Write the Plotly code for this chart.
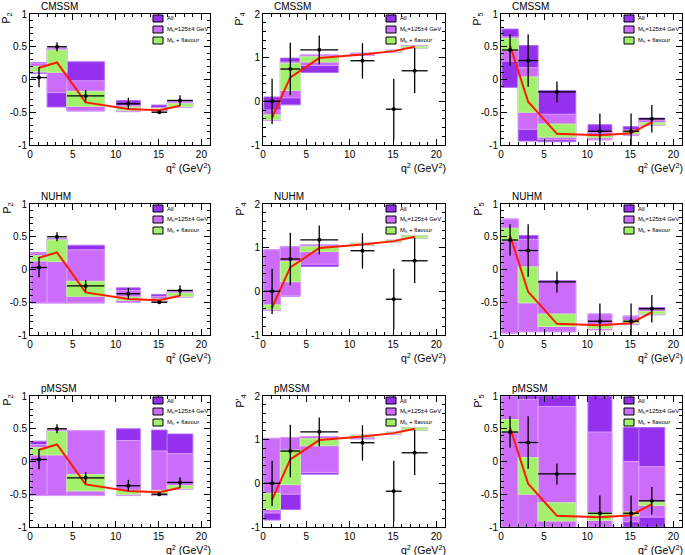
import plotly.graph_objects as go

# ---------------- data ----------------
bin_lo = [0.1, 2.0, 4.3, 10.09, 14.18, 16.0]
bin_hi = [2.0, 4.3, 8.68, 12.86, 16.0, 19.0]

models = ["CMSSM", "NUHM", "pMSSM"]
observables = ["P2", "P4", "P5"]
ytitles = ["P<sub>2</sub>", "P'<sub>4</sub>", "P'<sub>5</sub>"]
yranges = {"P2": [-1, 1], "P4": [-1, 2], "P5": [-1, 1]}
ytickvals = {"P2": [-1, -0.5, 0, 0.5, 1], "P4": [-1, 0, 1, 2], "P5": [-1, -0.5, 0, 0.5, 1]}
yticktext = {"P2": ["-1", "-0.5", "0", "0.5", "1"], "P4": ["-1", "0", "1", "2"],
             "P5": ["-1", "-0.5", "0", "0.5", "1"]}
xtickvals = [0, 5, 10, 15, 20]
xticktext = ["0", "5", "10", "15", "20"]

legend_labels = ["All", "M<sub>h</sub>=125±4 GeV", "M<sub>h</sub> + flavour"]

# LHCb measurements
p2_data = [0.03, 0.50, -0.25, -0.37, -0.50, -0.32]
p2_err_up = [0.16, 0.07, 0.09, 0.09, 0.02, 0.08]
p2_err_dn = [0.15, 0.07, 0.09, 0.08, 0.02, 0.08]
p4_data = [0.00, 0.74, 1.18, 0.93, -0.18, 0.70]
p4_err_up = [0.52, 0.60, 0.33, 0.40, 0.70, 0.52]
p4_err_dn = [0.52, 0.60, 0.33, 0.41, 0.70, 0.51]
p5_data = [0.45, 0.29, -0.19, -0.79, -0.79, -0.60]
p5_err_up = [0.24, 0.40, 0.16, 0.27, 0.27, 0.21]
p5_err_dn = [0.24, 0.40, 0.16, 0.25, 0.25, 0.21]

# SM prediction (red line)
p2_sm = [0.18, 0.26, -0.35, -0.45, -0.47, -0.40]
p4_sm = [-0.37, 0.55, 0.99, 1.07, 1.15, 1.25]
p5_sm = [0.52, -0.34, -0.83, -0.85, -0.82, -0.65]

# Bands per bin: (low, high) for All / M_h / M_h + flavour
cmssm_p2_all = [(0.09, 0.26), (-0.42, 0.48), (-0.48, 0.27), (-0.49, -0.32), (-0.48, -0.39), (-0.42, -0.34)]
cmssm_p2_mh = [(0.10, 0.25), (-0.20, 0.48), (-0.48, -0.02), (-0.49, -0.40), (-0.48, -0.43), (-0.42, -0.35)]
cmssm_p2_fl = [(0.12, 0.20), (0.11, 0.45), (-0.41, -0.18), (-0.47, -0.42), (-0.46, -0.44), (-0.41, -0.37)]
cmssm_p4_all = [(-0.44, 0.10), (-0.08, 0.99), (0.66, 1.06), (1.05, 1.10), (1.13, 1.17), (1.21, 1.27)]
cmssm_p4_mh = [(-0.44, -0.20), (0.08, 0.90), (0.82, 1.06), (1.05, 1.10), (1.13, 1.17), (1.21, 1.27)]
cmssm_p4_fl = [(-0.42, -0.31), (0.25, 0.87), (0.90, 1.02), None, (1.14, 1.16), (1.22, 1.26)]
cmssm_p5_all = [(-0.12, 0.77), (-0.94, 0.52), (-0.95, -0.17), (-0.92, -0.69), (-0.85, -0.72), (-0.70, -0.59)]
cmssm_p5_mh = [(0.28, 0.65), (-0.76, 0.18), (-0.92, -0.53), (-0.92, -0.80), (-0.85, -0.77), (-0.70, -0.62)]
cmssm_p5_fl = [(0.44, 0.63), (-0.50, 0.04), (-0.88, -0.68), (-0.89, -0.85), (-0.83, -0.79), (-0.69, -0.66)]

nuhm_p2_all = [(-0.51, 0.26), (-0.51, 0.47), (-0.51, 0.37), (-0.50, -0.28), (-0.50, -0.38), (-0.42, -0.33)]
nuhm_p2_mh = [(-0.51, 0.25), (-0.51, 0.46), (-0.51, 0.30), (-0.50, -0.32), (-0.50, -0.41), (-0.42, -0.34)]
nuhm_p2_fl = [(0.13, 0.21), (0.12, 0.45), (-0.41, -0.18), (-0.47, -0.42), (-0.48, -0.45), (-0.41, -0.36)]
nuhm_p4_all = [(-0.44, 0.95), (-0.11, 1.02), (0.57, 1.06), (1.05, 1.10), (1.13, 1.17), (1.21, 1.27)]
nuhm_p4_mh = [(-0.44, 0.95), (-0.10, 1.02), (0.62, 1.06), (1.05, 1.10), (1.13, 1.17), (1.21, 1.27)]
nuhm_p4_fl = [(-0.41, -0.31), (0.22, 0.68), (0.91, 1.02), (1.06, 1.10), (1.13, 1.17), (1.22, 1.27)]
nuhm_p5_all = [(-0.97, 0.77), (-0.95, 0.52), (-0.95, -0.17), (-0.92, -0.68), (-0.84, -0.71), (-0.69, -0.58)]
nuhm_p5_mh = [(-0.97, 0.77), (-0.95, 0.46), (-0.95, -0.19), (-0.92, -0.68), (-0.84, -0.72), (-0.69, -0.61)]
nuhm_p5_fl = [(0.44, 0.63), (-0.51, 0.04), (-0.87, -0.68), (-0.90, -0.84), (-0.82, -0.78), (-0.68, -0.64)]

pmssm_p2_all = [(-0.52, 0.31), (-0.52, 0.48), (-0.52, 0.47), (-0.52, 0.50), (-0.52, 0.48), (-0.42, 0.42)]
pmssm_p2_mh = [(-0.52, 0.26), (-0.52, 0.48), (-0.52, 0.47), (-0.52, 0.32), (-0.52, 0.16), (-0.42, 0.12)]
pmssm_p2_fl = [(0.10, 0.21), (0.10, 0.46), (-0.45, -0.20), (-0.50, -0.44), (-0.50, -0.44), (-0.41, -0.37)]
pmssm_p4_all = [(-0.84, 1.03), (-0.60, 1.05), (0.21, 1.07), (1.02, 1.10), (1.13, 1.17), (1.21, 1.27)]
pmssm_p4_mh = [(-0.68, 1.03), (-0.25, 1.05), (0.25, 1.07), (1.02, 1.10), (1.13, 1.17), (1.21, 1.27)]
pmssm_p4_fl = [(-0.60, -0.23), (-0.03, 0.76), (0.86, 1.02), (1.06, 1.10), (1.14, 1.17), (1.22, 1.27)]
pmssm_p5_all = [(-1.0, 1.0), (-1.0, 1.0), (-1.0, 1.0), (-1.0, 1.0), (-1.0, 0.52), (-1.0, 0.52)]
pmssm_p5_mh = [(-1.0, 1.0), (-1.0, 0.95), (-1.0, 0.84), (-1.0, 0.45), (-0.92, 0.0), (-0.85, -0.08)]
pmssm_p5_fl = [(0.45, 0.64), (-0.50, 0.06), (-0.91, -0.63), (-0.90, -0.78), (-0.83, -0.77), (-0.67, -0.62)]

bands = {
    ("CMSSM", "P2"): (cmssm_p2_all, cmssm_p2_mh, cmssm_p2_fl),
    ("CMSSM", "P4"): (cmssm_p4_all, cmssm_p4_mh, cmssm_p4_fl),
    ("CMSSM", "P5"): (cmssm_p5_all, cmssm_p5_mh, cmssm_p5_fl),
    ("NUHM", "P2"): (nuhm_p2_all, nuhm_p2_mh, nuhm_p2_fl),
    ("NUHM", "P4"): (nuhm_p4_all, nuhm_p4_mh, nuhm_p4_fl),
    ("NUHM", "P5"): (nuhm_p5_all, nuhm_p5_mh, nuhm_p5_fl),
    ("pMSSM", "P2"): (pmssm_p2_all, pmssm_p2_mh, pmssm_p2_fl),
    ("pMSSM", "P4"): (pmssm_p4_all, pmssm_p4_mh, pmssm_p4_fl),
    ("pMSSM", "P5"): (pmssm_p5_all, pmssm_p5_mh, pmssm_p5_fl),
}
meas = {"P2": (p2_data, p2_err_up, p2_err_dn, p2_sm),
        "P4": (p4_data, p4_err_up, p4_err_dn, p4_sm),
        "P5": (p5_data, p5_err_up, p5_err_dn, p5_sm)}

# ---------------- style ----------------
W, H = 685, 555
col_px = [(30, 210), (263, 445), (501, 682)]
row_px = [(14, 145), (204, 335), (396, 527)]
band_colors = ["#9430ee", "#cc6cfb", "#a2f06c"]
rim_colors = ["#b26ef4", "#dc9cfb", "#c4f5a2"]
FONT = "Liberation Sans, Arial, sans-serif"

fig = go.Figure()
centers = [(a + b) / 2 for a, b in zip(bin_lo, bin_hi)]
widths = [b - a for a, b in zip(bin_lo, bin_hi)]
layout_axes = {}
annotations = []
shapes = []

for r, model in enumerate(models):
    for c, obs in enumerate(observables):
        idx = r * 3 + c + 1
        xa = "x" if idx == 1 else f"x{idx}"
        ya = "y" if idx == 1 else f"y{idx}"
        # bands
        for band, col, rim in zip(bands[(model, obs)], band_colors, rim_colors):
            xs, ys, bs, ws = [], [], [], []
            for i, rng in enumerate(band):
                if rng is None:
                    continue
                xs.append(centers[i]); bs.append(rng[0]); ys.append(rng[1] - rng[0]); ws.append(widths[i])
            fig.add_trace(go.Bar(x=xs, y=ys, base=bs, width=ws, xaxis=xa, yaxis=ya,
                                 marker=dict(color=col, line=dict(color=rim, width=1)),
                                 opacity=1, showlegend=False, hoverinfo="skip"))
        vals, eu, ed, sm = meas[obs]
        fig.add_trace(go.Scatter(x=centers, y=sm, mode="lines", xaxis=xa, yaxis=ya,
                                 line=dict(color="#ff1a00", width=2), showlegend=False,
                                 hoverinfo="skip"))
        fig.add_trace(go.Scatter(
            x=centers, y=vals, mode="markers", xaxis=xa, yaxis=ya,
            marker=dict(color="black", size=4),
            error_x=dict(type="data", symmetric=False,
                         array=[h - x for h, x in zip(bin_hi, centers)],
                         arrayminus=[x - l for l, x in zip(bin_lo, centers)],
                         color="black", thickness=1.3, width=0),
            error_y=dict(type="data", symmetric=False, array=eu, arrayminus=ed,
                         color="black", thickness=1.3, width=0),
            showlegend=False, hoverinfo="skip"))

        x0, x1 = col_px[c]
        t0, b0 = row_px[r]
        xkey = "xaxis" if idx == 1 else f"xaxis{idx}"
        ykey = "yaxis" if idx == 1 else f"yaxis{idx}"
        layout_axes[xkey] = dict(
            domain=[x0 / W, x1 / W], anchor=ya, range=[0, 21], automargin=False,
            tickvals=xtickvals, ticktext=xticktext, ticks="inside", ticklen=6,
            tickcolor="black", showline=True, linecolor="black", linewidth=1,
            mirror="allticks", showgrid=False, zeroline=False,
            minor=dict(ticks="inside", dtick=1, ticklen=3, tickcolor="black", showgrid=False),
            tickfont=dict(family=FONT, size=10, color="black"), fixedrange=True)
        ymin, ymax = yranges[obs]
        layout_axes[ykey] = dict(
            domain=[1 - b0 / H, 1 - t0 / H], anchor=xa, range=[ymin, ymax], automargin=False,
            tickvals=ytickvals[obs], ticktext=yticktext[obs], ticks="inside", ticklen=6,
            tickcolor="black", showline=True, linecolor="black", linewidth=1,
            mirror="allticks", showgrid=False, zeroline=False,
            minor=dict(ticks="inside", dtick=0.2 if obs == "P4" else 0.1, ticklen=3,
                       tickcolor="black", showgrid=False),
            tickfont=dict(family=FONT, size=10, color="black"), fixedrange=True)

        xd = f"{xa} domain"
        yd = f"{ya} domain"
        # model title
        annotations.append(dict(text=model, xref=xd, yref=yd, x=0, y=1, xanchor="left",
                                yanchor="bottom", xshift=9, yshift=0, showarrow=False,
                                font=dict(family=FONT, size=10, color="black")))
        # y title
        annotations.append(dict(text=ytitles[c], xref=xd, yref=yd, x=0, y=1, xanchor="center",
                                yanchor="top", xshift=-23, yshift=3, textangle=-90,
                                showarrow=False, font=dict(family=FONT, size=10.5, color="black")))
        # x title
        annotations.append(dict(text="q<sup>2</sup> (GeV<sup>2</sup>)", xref=xd, yref=yd, x=1,
                                y=0, xanchor="right", yanchor="top", xshift=3, yshift=-14,
                                showarrow=False, font=dict(family=FONT, size=10.5, color="black")))
        # legend
        pw = x1 - x0
        ph = b0 - t0
        for k, (lab, col) in enumerate(zip(legend_labels, band_colors)):
            top = 1 + 11 * k
            shapes.append(dict(type="rect", xref=xd, yref=yd,
                               x0=123 / pw, x1=133 / pw,
                               y0=1 - (top + 7) / ph, y1=1 - top / ph,
                               fillcolor=col, line=dict(color="black", width=1)))
            annotations.append(dict(text=lab, xref=xd, yref=yd, x=135 / pw,
                                    y=1 - (top + 3.5) / ph, xanchor="left", yanchor="middle",
                                    showarrow=False,
                                    font=dict(family=FONT, size=6, color="black")))

fig.update_layout(
    width=W, height=H, margin=dict(l=0, r=0, t=0, b=0, autoexpand=False),
    paper_bgcolor="white", plot_bgcolor="white", barmode="overlay",
    showlegend=False, annotations=annotations, shapes=shapes,
    font=dict(family=FONT, color="black"), **layout_axes)

fig.write_html("out.html", config={"displayModeBar": False},
               post_script="document.body.style.margin='0';document.body.style.overflow='hidden';")
